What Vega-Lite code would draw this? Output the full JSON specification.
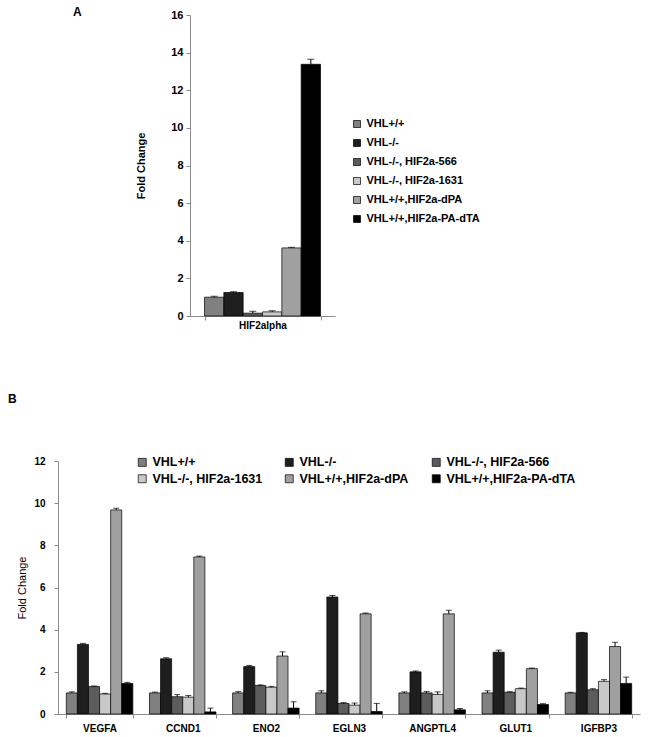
{
  "$schema": "https://vega.github.io/schema/vega-lite/v6.json",
  "padding": {"left": 8, "top": 6, "right": 8, "bottom": 2},
  "background": "white",
  "spacing": 63,
  "config": {
    "view": {"stroke": null},
    "font": "Liberation Sans",
    "axis": {"domainColor": "#8c8c8c", "tickColor": "#8c8c8c", "labelColor": "#000", "titleColor": "#000", "labelFontWeight": "bold", "grid": false, "tickSize": 4, "labelOverlap": false},
    "legend": {"labelColor": "#000", "labelFontWeight": "bold", "symbolType": "square", "symbolStrokeColor": "#000", "symbolStrokeWidth": 0.7, "labelOffset": 4}
  },
  "datasets": {
    "a": [
      {"gene": "HIF2alpha", "group": "VHL+/+", "value": 1.0, "upper": 1.05},
      {"gene": "HIF2alpha", "group": "VHL-/-", "value": 1.25, "upper": 1.29},
      {"gene": "HIF2alpha", "group": "VHL-/-, HIF2a-566", "value": 0.15, "upper": 0.25},
      {"gene": "HIF2alpha", "group": "VHL-/-, HIF2a-1631", "value": 0.22, "upper": 0.28},
      {"gene": "HIF2alpha", "group": "VHL+/+,HIF2a-dPA", "value": 3.62, "upper": 3.65},
      {"gene": "HIF2alpha", "group": "VHL+/+,HIF2a-PA-dTA", "value": 13.38, "upper": 13.65}
    ],
    "b": [
      {"gene": "VEGFA", "group": "VHL+/+", "value": 1.0, "upper": 1.05},
      {"gene": "VEGFA", "group": "VHL-/-", "value": 3.3, "upper": 3.35},
      {"gene": "VEGFA", "group": "VHL-/-, HIF2a-566", "value": 1.3, "upper": 1.33},
      {"gene": "VEGFA", "group": "VHL-/-, HIF2a-1631", "value": 0.95, "upper": 0.98},
      {"gene": "VEGFA", "group": "VHL+/+,HIF2a-dPA", "value": 9.68, "upper": 9.76},
      {"gene": "VEGFA", "group": "VHL+/+,HIF2a-PA-dTA", "value": 1.45, "upper": 1.5},
      {"gene": "CCND1", "group": "VHL+/+", "value": 1.0, "upper": 1.04},
      {"gene": "CCND1", "group": "VHL-/-", "value": 2.62, "upper": 2.67},
      {"gene": "CCND1", "group": "VHL-/-, HIF2a-566", "value": 0.82, "upper": 0.92},
      {"gene": "CCND1", "group": "VHL-/-, HIF2a-1631", "value": 0.8, "upper": 0.88},
      {"gene": "CCND1", "group": "VHL+/+,HIF2a-dPA", "value": 7.45, "upper": 7.49},
      {"gene": "CCND1", "group": "VHL+/+,HIF2a-PA-dTA", "value": 0.1, "upper": 0.28},
      {"gene": "ENO2", "group": "VHL+/+", "value": 1.0, "upper": 1.06},
      {"gene": "ENO2", "group": "VHL-/-", "value": 2.25, "upper": 2.3},
      {"gene": "ENO2", "group": "VHL-/-, HIF2a-566", "value": 1.35, "upper": 1.38},
      {"gene": "ENO2", "group": "VHL-/-, HIF2a-1631", "value": 1.27, "upper": 1.31},
      {"gene": "ENO2", "group": "VHL+/+,HIF2a-dPA", "value": 2.75, "upper": 2.95},
      {"gene": "ENO2", "group": "VHL+/+,HIF2a-PA-dTA", "value": 0.28, "upper": 0.58},
      {"gene": "EGLN3", "group": "VHL+/+", "value": 1.0, "upper": 1.1},
      {"gene": "EGLN3", "group": "VHL-/-", "value": 5.55, "upper": 5.62},
      {"gene": "EGLN3", "group": "VHL-/-, HIF2a-566", "value": 0.5, "upper": 0.54},
      {"gene": "EGLN3", "group": "VHL-/-, HIF2a-1631", "value": 0.42, "upper": 0.52},
      {"gene": "EGLN3", "group": "VHL+/+,HIF2a-dPA", "value": 4.75, "upper": 4.79},
      {"gene": "EGLN3", "group": "VHL+/+,HIF2a-PA-dTA", "value": 0.12, "upper": 0.5},
      {"gene": "ANGPTL4", "group": "VHL+/+", "value": 1.0, "upper": 1.05},
      {"gene": "ANGPTL4", "group": "VHL-/-", "value": 2.0, "upper": 2.04},
      {"gene": "ANGPTL4", "group": "VHL-/-, HIF2a-566", "value": 1.0, "upper": 1.07},
      {"gene": "ANGPTL4", "group": "VHL-/-, HIF2a-1631", "value": 0.93, "upper": 1.05},
      {"gene": "ANGPTL4", "group": "VHL+/+,HIF2a-dPA", "value": 4.75, "upper": 4.92},
      {"gene": "ANGPTL4", "group": "VHL+/+,HIF2a-PA-dTA", "value": 0.2, "upper": 0.26},
      {"gene": "GLUT1", "group": "VHL+/+", "value": 1.0, "upper": 1.1},
      {"gene": "GLUT1", "group": "VHL-/-", "value": 2.93, "upper": 3.03},
      {"gene": "GLUT1", "group": "VHL-/-, HIF2a-566", "value": 1.03, "upper": 1.06},
      {"gene": "GLUT1", "group": "VHL-/-, HIF2a-1631", "value": 1.2, "upper": 1.23},
      {"gene": "GLUT1", "group": "VHL+/+,HIF2a-dPA", "value": 2.15, "upper": 2.18},
      {"gene": "GLUT1", "group": "VHL+/+,HIF2a-PA-dTA", "value": 0.45, "upper": 0.49},
      {"gene": "IGFBP3", "group": "VHL+/+", "value": 1.0, "upper": 1.03},
      {"gene": "IGFBP3", "group": "VHL-/-", "value": 3.85, "upper": 3.87},
      {"gene": "IGFBP3", "group": "VHL-/-, HIF2a-566", "value": 1.15, "upper": 1.2},
      {"gene": "IGFBP3", "group": "VHL-/-, HIF2a-1631", "value": 1.55, "upper": 1.63},
      {"gene": "IGFBP3", "group": "VHL+/+,HIF2a-dPA", "value": 3.2, "upper": 3.4},
      {"gene": "IGFBP3", "group": "VHL+/+,HIF2a-PA-dTA", "value": 1.45, "upper": 1.75}
    ]
  },
  "vconcat": [
    {
      "title": {"text": "A", "anchor": "start", "frame": "group", "dx": 15, "offset": 0, "dy": 10, "fontSize": 12, "fontWeight": "bold", "color": "#000"},
      "width": 277,
      "height": 301,
      "data": {"name": "a"},
      "encoding": {
        "x": {"field": "gene", "type": "nominal", "title": null, "scale": {"range": [132, 277], "paddingInner": 0.2, "paddingOuter": 0.1}, "axis": {"labelAngle": 0, "tickBand": "extent", "labelFontSize": 10, "labelPadding": 0}},
        "xOffset": {"field": "group", "type": "nominal", "sort": ["VHL+/+", "VHL-/-", "VHL-/-, HIF2a-566", "VHL-/-, HIF2a-1631", "VHL+/+,HIF2a-dPA", "VHL+/+,HIF2a-PA-dTA"], "scale": {"paddingInner": 0, "paddingOuter": 0}}
      },
      "layer": [
        {
          "mark": {"type": "bar", "stroke": "#000", "strokeWidth": 0.7},
          "encoding": {
            "y": {"field": "value", "type": "quantitative", "title": "Fold Change", "scale": {"domain": [0, 16]}, "axis": {"offset": -132, "values": [0, 2, 4, 6, 8, 10, 12, 14, 16], "labelFontSize": 11, "labelPadding": 3, "titlePadding": 24, "titleFontSize": 11, "titleFontWeight": "bold"}},
            "color": {"field": "group", "type": "nominal", "scale": {"domain": ["VHL+/+", "VHL-/-", "VHL-/-, HIF2a-566", "VHL-/-, HIF2a-1631", "VHL+/+,HIF2a-dPA", "VHL+/+,HIF2a-PA-dTA"], "range": ["#808080", "#1e1e1e", "#5c5c5c", "#c8c8c8", "#a0a0a0", "#000000"]}, "legend": {"orient": "none", "legendX": 293.5, "legendY": 103.5, "title": null, "symbolSize": 49, "labelFontSize": 11, "rowPadding": 7}}
          }
        },
        {
          "mark": {"type": "rule", "color": "#000", "strokeWidth": 1},
          "encoding": {
            "y": {"field": "value", "type": "quantitative", "title": "Fold Change", "scale": {"domain": [0, 16]}, "axis": {"offset": -132, "values": [0, 2, 4, 6, 8, 10, 12, 14, 16], "labelFontSize": 11, "labelPadding": 3, "titlePadding": 24, "titleFontSize": 11, "titleFontWeight": "bold"}},
            "y2": {"field": "upper"}
          }
        },
        {
          "mark": {"type": "tick", "color": "#000", "size": 7, "thickness": 1, "orient": "horizontal"},
          "encoding": {
            "y": {"field": "upper", "type": "quantitative", "title": "Fold Change", "scale": {"domain": [0, 16]}, "axis": {"offset": -132, "values": [0, 2, 4, 6, 8, 10, 12, 14, 16], "labelFontSize": 11, "labelPadding": 3, "titlePadding": 24, "titleFontSize": 11, "titleFontWeight": "bold"}}
          }
        }
      ]
    },
    {
      "title": {"text": "B", "anchor": "start", "frame": "group", "dx": -50, "offset": 50, "fontSize": 12, "fontWeight": "bold", "color": "#000"},
      "width": 582,
      "height": 253,
      "data": {"name": "b"},
      "encoding": {
        "x": {"field": "gene", "type": "nominal", "title": null, "sort": ["VEGFA", "CCND1", "ENO2", "EGLN3", "ANGPTL4", "GLUT1", "IGFBP3"], "scale": {"paddingInner": 0.2, "paddingOuter": 0.1}, "axis": {"labelAngle": 0, "tickBand": "extent", "labelFontSize": 10, "labelPadding": 5}},
        "xOffset": {"field": "group", "type": "nominal", "sort": ["VHL+/+", "VHL-/-", "VHL-/-, HIF2a-566", "VHL-/-, HIF2a-1631", "VHL+/+,HIF2a-dPA", "VHL+/+,HIF2a-PA-dTA"], "scale": {"paddingInner": 0, "paddingOuter": 0}}
      },
      "layer": [
        {
          "mark": {"type": "bar", "stroke": "#000", "strokeWidth": 0.7},
          "encoding": {
            "y": {"field": "value", "type": "quantitative", "title": "Fold Change", "scale": {"domain": [0, 12]}, "axis": {"values": [0, 2, 4, 6, 8, 10, 12], "labelFontSize": 10, "labelPadding": 9, "titlePadding": 6, "titleFontSize": 11, "titleFontWeight": "normal"}},
            "color": {"field": "group", "type": "nominal", "scale": {"domain": ["VHL+/+", "VHL-/-", "VHL-/-, HIF2a-566", "VHL-/-, HIF2a-1631", "VHL+/+,HIF2a-dPA", "VHL+/+,HIF2a-PA-dTA"], "range": ["#808080", "#1e1e1e", "#5c5c5c", "#c8c8c8", "#a0a0a0", "#000000"]}, "legend": {"orient": "none", "legendX": 78, "legendY": -5, "title": null, "direction": "horizontal", "columns": 3, "gridAlign": "all", "columnPadding": 1, "rowPadding": 3.5, "symbolSize": 64, "labelFontSize": 12.5}}
          }
        },
        {
          "mark": {"type": "rule", "color": "#000", "strokeWidth": 1},
          "encoding": {
            "y": {"field": "value", "type": "quantitative", "title": "Fold Change", "scale": {"domain": [0, 12]}, "axis": {"values": [0, 2, 4, 6, 8, 10, 12], "labelFontSize": 10, "labelPadding": 9, "titlePadding": 6, "titleFontSize": 11, "titleFontWeight": "normal"}},
            "y2": {"field": "upper"}
          }
        },
        {
          "mark": {"type": "tick", "color": "#000", "size": 6, "thickness": 1, "orient": "horizontal"},
          "encoding": {
            "y": {"field": "upper", "type": "quantitative", "title": "Fold Change", "scale": {"domain": [0, 12]}, "axis": {"values": [0, 2, 4, 6, 8, 10, 12], "labelFontSize": 10, "labelPadding": 9, "titlePadding": 6, "titleFontSize": 11, "titleFontWeight": "normal"}}
          }
        }
      ]
    }
  ],
  "resolve": {"scale": {"color": "independent", "xOffset": "independent"}, "legend": {"color": "independent"}}
}
